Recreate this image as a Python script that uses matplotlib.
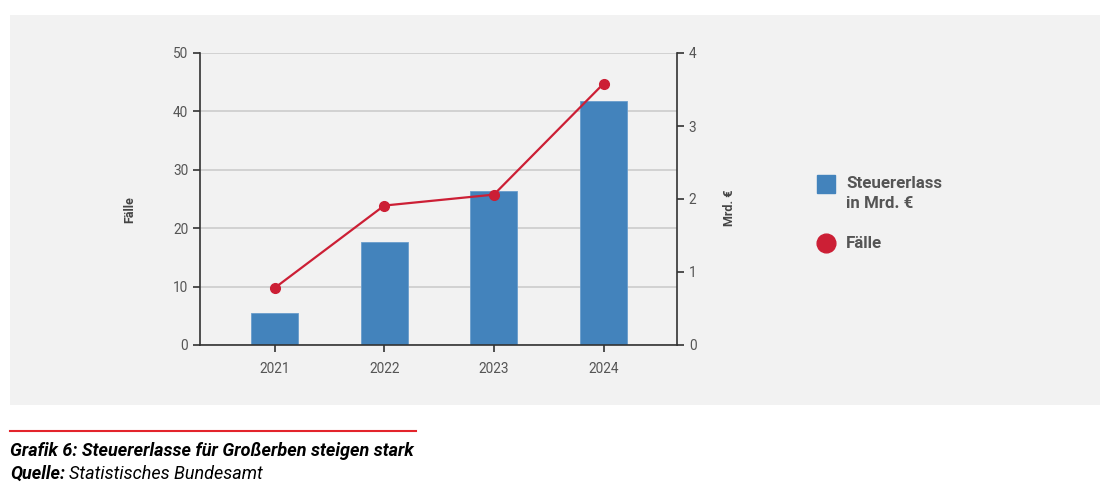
import matplotlib
matplotlib.use("Agg")
import matplotlib.pyplot as plt
from matplotlib.patches import Rectangle
from matplotlib.lines import Line2D

plt.rcParams['font.family'] = ['Roboto', 'DejaVu Sans']

# data
years = ["2021", "2022", "2023", "2024"]
bar_values = [5.4, 17.6, 26.3, 41.8]      # bars, left scale
line_values = [0.78, 1.91, 2.06, 3.58]    # red line, right scale
left_ticks = [0, 10, 20, 30, 40, 50]
right_ticks = [0, 1, 2, 3, 4]
legend_labels = ["Steuererlass\nin Mrd. €", "Fälle"]

blue = "#4383bc"
red = "#cc1f35"
tick_col = "#555555"

W, H = 1120, 492
fig = plt.figure(figsize=(11.2, 4.92), dpi=100)
fig.patch.set_facecolor("white")

# grey panel behind the chart
fig.patches.append(Rectangle((10/W, 1-405/H), 1090/W, 390/H,
                             transform=fig.transFigure, facecolor="#f2f2f2",
                             edgecolor="none", zorder=-10))

ax = fig.add_axes([200/W, 1-345/H, 477/W, 292/H])
ax.set_facecolor("none")
x = list(range(len(years)))
ax.bar(x, bar_values, width=0.43, color=blue, edgecolor="#6a9dcc",
       linewidth=0.6, zorder=2)
ax.set_xlim(-0.68, 3.67)
ax.set_ylim(0, 50)
ax.set_yticks(left_ticks)
ax.set_xticks(x)
ax.set_xticklabels(years)
ax.yaxis.grid(True, color="#cccccc", linewidth=1.2, zorder=0)
ax.set_axisbelow(True)
for s in ["top", "right"]:
    ax.spines[s].set_visible(False)
for s in ["left", "bottom"]:
    ax.spines[s].set_color("#333333")
    ax.spines[s].set_linewidth(1.2)
ax.tick_params(axis="both", colors="#333333", labelcolor=tick_col,
               labelsize=9.8, length=5, width=1.2)
ax.tick_params(axis="x", pad=7)
ax.set_ylabel("Fälle", fontsize=9, fontweight="bold", color="#444444")
ax.yaxis.set_label_coords((136-200)/477, (345-210)/292)

ax2 = ax.twinx()
ax2.plot(x, line_values, color=red, linewidth=1.6, marker="o",
         markersize=7, zorder=3)
ax2.set_ylim(0, 4)
ax2.set_yticks(right_ticks)
for s in ["top", "left", "bottom"]:
    ax2.spines[s].set_visible(False)
ax2.spines["right"].set_color("#333333")
ax2.spines["right"].set_linewidth(1.2)
ax2.tick_params(axis="y", colors="#333333", labelcolor=tick_col,
                labelsize=9.8, length=5, width=1.2)
ax2.set_ylabel("Mrd. €", fontsize=9, fontweight="bold", color="#444444")
ax2.yaxis.set_label_coords((723-200)/477, (345-208)/292)

# legend, drawn by hand so the square sits on the first text line
fig.add_artist(Line2D([826/W], [1-184/H], transform=fig.transFigure,
                      marker="s", markersize=12.5, color=blue,
                      linestyle="none"))
fig.add_artist(Line2D([826/W], [1-243/H], transform=fig.transFigure,
                      marker="o", markersize=13.5, color=red,
                      linestyle="none"))
fig.text(846/W, 1-176/H, legend_labels[0], fontsize=12.2, fontweight="bold",
         color="#555555", va="top", linespacing=1.45)
fig.text(846/W, 1-243/H, legend_labels[1], fontsize=12.2, fontweight="bold",
         color="#555555", va="center")

# caption
fig.add_artist(Line2D([10/W, 416/W], [1-431/H, 1-431/H],
                      transform=fig.transFigure, color="#e3242b",
                      linewidth=1.5))
fig.text(10/W, 1-451/H, "Grafik 6: Steuererlasse für Großerben steigen stark",
         fontsize=13, fontweight="bold", fontstyle="italic", va="center")
q = fig.text(10/W, 1-474/H, "Quelle:", fontsize=13, fontweight="bold",
             fontstyle="italic", va="center")
r = fig.canvas.get_renderer()
bb = q.get_window_extent(renderer=r)
fig.text(bb.x1/W + 4/W, 1-474/H, "Statistisches Bundesamt",
         fontsize=13, fontstyle="italic", va="center")

fig.savefig("out.png", dpi=100)
